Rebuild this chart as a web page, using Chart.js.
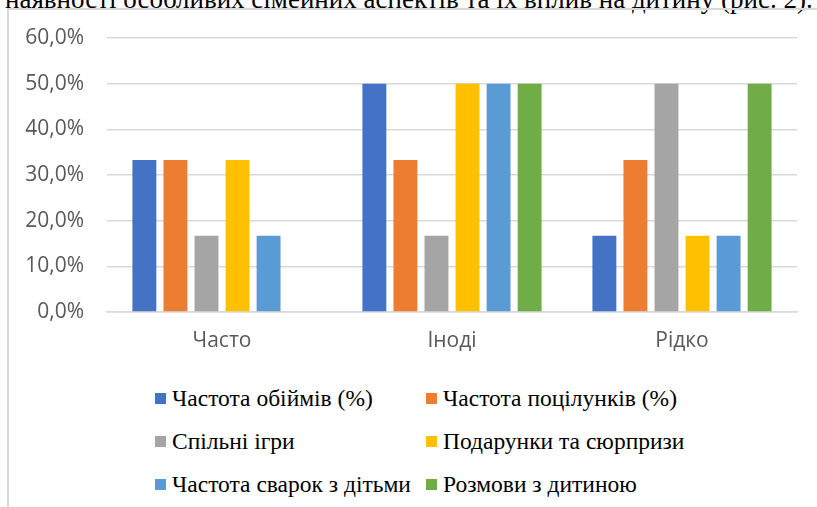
<!DOCTYPE html>
<html>
<head>
<meta charset="utf-8">
<script src="https://cdn.jsdelivr.net/npm/chart.js@4"></script>
<style>
  html, body { margin: 0; padding: 0; background: #fff; }
  body { width: 817px; height: 507px; position: relative; overflow: hidden; }
  #caption {
    position: absolute; left: 5px; top: -16px;
    font-family: "Liberation Serif", "Times New Roman", serif; font-size: 27px;
    line-height: 30px; color: #000; white-space: nowrap;
  }
  #frame {
    position: absolute; left: 7px; top: 8px; right: -4px; bottom: -4px;
    border-left: 2px solid #d9d9d9; border-top: 2px solid #d9d9d9;
  }
  #chart-box { position: absolute; left: 0; top: 0; width: 817px; height: 370px; }
  #legend {
    position: absolute; left: 155px; top: 377px;
    display: grid; grid-template-columns: 271px 300px;
    font-family: "Liberation Serif", "Times New Roman", serif; font-size: 23.5px; color: #000;
  }
  .item { display: flex; align-items: center; height: 43px; white-space: nowrap; }
  .swatch { width: 11px; height: 11px; margin-right: 6px; flex: none; }
</style>
</head>
<body>
<div id="caption">наявності особливих сімейних аспектів та їх вплив на дитину (рис. 2).</div>
<div id="frame"></div>
<div id="chart-box"><canvas id="chart" width="817" height="370"></canvas></div>
<div id="legend"></div>
<script>
const categories = ["Часто", "Іноді", "Рідко"];

const seriesNames = [
  "Частота обіймів (%)",
  "Частота поцілунків (%)",
  "Спільні ігри",
  "Подарунки та сюрпризи",
  "Частота сварок з дітьми",
  "Розмови з дитиною",
];

const seriesColors = ["#4472C4", "#ED7D31", "#A5A5A5", "#FFC000", "#5B9BD5", "#70AD47"];

// values in percent, one array per series (Часто, Іноді, Рідко)
const hugs = [33.3, 50.0, 16.7];
const kisses = [33.3, 33.3, 33.3];
const games = [16.7, 16.7, 50.0];
const gifts = [33.3, 50.0, 16.7];
const quarrels = [16.7, 50.0, 16.7];
const talks = [0, 50.0, 50.0];

const seriesValues = [hugs, kisses, games, gifts, quarrels, talks];

const yTicks = [0, 10, 20, 30, 40, 50, 60];

const datasets = seriesNames.map((name, i) => ({
  label: name,
  data: seriesValues[i],
  backgroundColor: seriesColors[i],
  borderWidth: 0,
  barPercentage: 0.77,
  categoryPercentage: 0.81,
}));

new Chart(document.getElementById("chart").getContext("2d"), {
  type: "bar",
  data: { labels: categories, datasets },
  options: {
    responsive: false,
    animation: false,
    layout: { padding: { top: 38, right: 20, left: 0, bottom: 0 } },
    plugins: {
      legend: { display: false },
      tooltip: { enabled: false },
    },
    scales: {
      x: {
        grid: { display: false, drawTicks: false },
        border: { color: "#d9d9d9", width: 1.5 },
        ticks: {
          color: "#595959",
          font: { family: "'Open Sans', 'Noto Sans', sans-serif", size: 21 },
          padding: 16,
        },
        afterFit: (scale) => { scale.height = 58; },
      },
      y: {
        min: 0,
        max: 60,
        afterBuildTicks: (scale) => {
          scale.ticks = yTicks.map((v) => ({ value: v }));
        },
        grid: { color: "#d9d9d9", lineWidth: 1.5, drawTicks: false },
        border: { display: false },
        ticks: {
          color: "#595959",
          font: { family: "'Open Sans', 'Noto Sans', sans-serif", size: 21 },
          padding: 23,
          callback: (v) => v.toFixed(1).replace(".", ",") + "%",
        },
        afterFit: (scale) => { scale.width = 107; },
      },
    },
  },
});

// legend, two columns like the original
const legendEl = document.getElementById("legend");
legendEl.innerHTML = seriesNames
  .map((name, i) => `
    <div class="item">
      <span class="swatch" style="background:${seriesColors[i]}"></span>
      <span>${name}</span>
    </div>`)
  .join("");
</script>
</body>
</html>
